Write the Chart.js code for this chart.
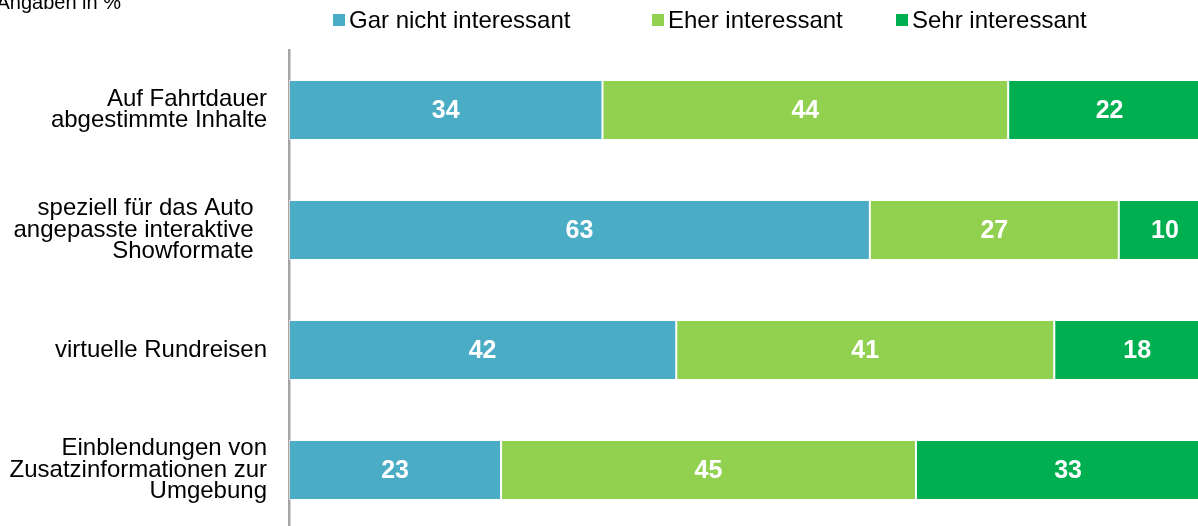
<!DOCTYPE html>
<html>
<head>
<meta charset="utf-8">
<script src="https://cdn.jsdelivr.net/npm/chart.js@4"></script>
<style>
    html, body { margin: 0; padding: 0; background: #fff; overflow: hidden; }
    #wrap { position: absolute; left: 0; top: 0; width: 1215px; height: 540px; }
</style>
</head>
<body>
<div id="wrap"><canvas id="interestChart" width="1215" height="540"></canvas></div>
<script>
// Angaben in %
var categories = [
    ['Auf Fahrtdauer', 'abgestimmte Inhalte'],
    ['speziell für das Auto  ', 'angepasste interaktive  ', 'Showformate  '],
    ['virtuelle Rundreisen'],
    ['Einblendungen von', 'Zusatzinformationen zur', 'Umgebung']
];
var seriesNames = ['Gar nicht interessant', 'Eher interessant', 'Sehr interessant'];
var garNicht = [34, 63, 42, 23];
var eher = [44, 27, 41, 45];
var sehr = [22, 10, 18, 33];

var colors = ['#4BACC6', '#92D050', '#00B050'];
var legendX = [333, 652, 896];
var fontFamily = '"Liberation Sans", Arial, sans-serif';

var topTextPlugin = {
    id: 'topText',
    afterDraw: function(chart) {
        var ctx = chart.ctx;
        ctx.save();
        ctx.fillStyle = '#000';
        ctx.font = '20px ' + fontFamily;
        ctx.textAlign = 'right';
        ctx.textBaseline = 'alphabetic';
        ctx.fillText('Angaben in %', 121, 9);

        // legend
        ctx.font = '24px ' + fontFamily;
        ctx.textAlign = 'left';
        ctx.textBaseline = 'middle';
        chart.data.datasets.forEach(function(ds, i) {
            ctx.fillStyle = ds.backgroundColor;
            ctx.fillRect(legendX[i], 14, 12, 12);
            ctx.fillStyle = '#000';
            ctx.fillText(ds.label, legendX[i] + 16, 21);
        });
        ctx.restore();
    }
};

var valueLabelPlugin = {
    id: 'valueLabels',
    afterDatasetsDraw: function(chart) {
        var ctx = chart.ctx;
        ctx.save();
        ctx.fillStyle = '#fff';
        ctx.font = 'bold 25px ' + fontFamily;
        ctx.textAlign = 'center';
        ctx.textBaseline = 'middle';
        chart.data.datasets.forEach(function(ds, i) {
            var meta = chart.getDatasetMeta(i);
            meta.data.forEach(function(bar, j) {
                var cx = (bar.x + bar.base) / 2;
                ctx.fillText(String(ds.data[j]), cx, bar.y + 1);
            });
        });
        ctx.restore();
    }
};

function makeDataset(label, data, color) {
    return {
        label: label,
        data: data,
        backgroundColor: color,
        borderColor: 'rgba(255, 255, 255, 0.5)',
        borderWidth: 1,
        borderSkipped: false,
        barPercentage: 0.5,
        categoryPercentage: 1.0
    };
}

var ctx = document.getElementById('interestChart').getContext('2d');
new Chart(ctx, {
    type: 'bar',
    data: {
        labels: categories,
        datasets: [
            makeDataset(seriesNames[0], garNicht, colors[0]),
            makeDataset(seriesNames[1], eher, colors[1]),
            makeDataset(seriesNames[2], sehr, colors[2])
        ]
    },
    options: {
        indexAxis: 'y',
        responsive: false,
        animation: false,
        layout: {
            padding: { top: 50, bottom: 10, left: 0, right: 4 }
        },
        plugins: {
            legend: { display: false },
            tooltip: { enabled: false }
        },
        scales: {
            x: {
                stacked: true,
                display: false,
                min: 0,
                max: 100
            },
            y: {
                stacked: true,
                afterFit: function(scale) {
                    scale.width = 289;
                    scale.paddingTop = 0;
                    scale.paddingBottom = 0;
                },
                grid: { display: false, drawTicks: false },
                border: { display: true, color: '#A6A6A6', width: 2.5 },
                ticks: {
                    color: '#000',
                    padding: 22,
                    font: { family: fontFamily, size: 24, lineHeight: 0.9 }
                }
            }
        }
    },
    plugins: [topTextPlugin, valueLabelPlugin]
});
</script>
</body>
</html>
